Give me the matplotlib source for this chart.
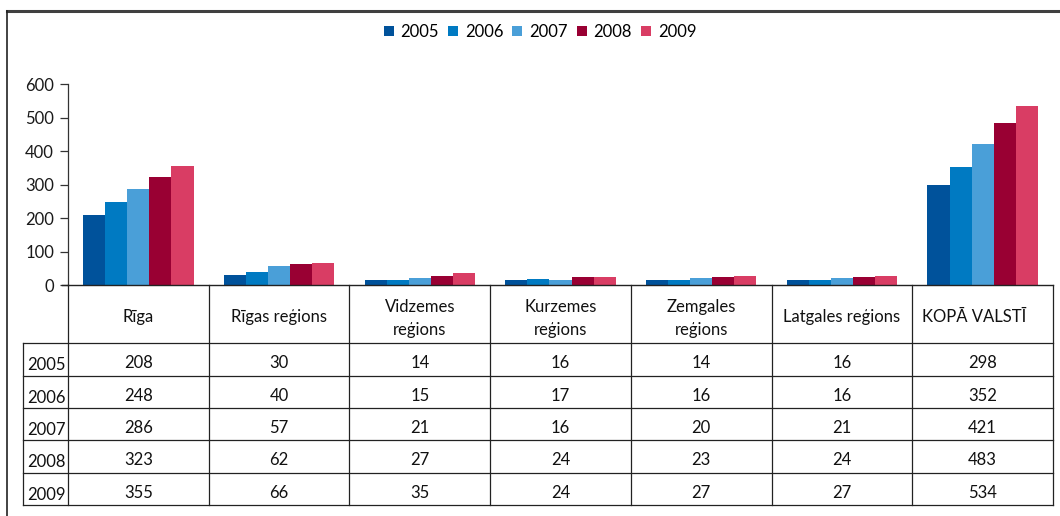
import matplotlib
matplotlib.use("Agg")
import matplotlib.pyplot as plt
from matplotlib.lines import Line2D

plt.rcParams['font.family'] = ['Lato', 'DejaVu Sans']

categories = ["Rīga", "Rīgas reģions", "Vidzemes\nreģions", "Kurzemes\nreģions",
              "Zemgales\nreģions", "Latgales reģions", "KOPĀ VALSTĪ"]
years = ["2005", "2006", "2007", "2008", "2009"]
v2005 = [208, 30, 14, 16, 14, 16, 298]
v2006 = [248, 40, 15, 17, 16, 16, 352]
v2007 = [286, 57, 21, 16, 20, 21, 421]
v2008 = [323, 62, 27, 24, 23, 24, 483]
v2009 = [355, 66, 35, 24, 27, 27, 534]
series = [v2005, v2006, v2007, v2008, v2009]
colors = ["#00529B", "#007AC2", "#4A9FD8", "#990033", "#D93D64"]
yticks = [0, 100, 200, 300, 400, 500, 600]

W, H = 1060, 516
fig = plt.figure(figsize=(W / 100, H / 100), dpi=100)
FS = 12

# main plot area in pixels
L, R, T, B = 68, 1053, 84.3, 285
ax = fig.add_axes([L / W, 1 - B / H, (R - L) / W, (B - T) / H])
n = len(categories)
bw = 0.157
x = list(range(n))
handles = []
for i, (vals, c) in enumerate(zip(series, colors)):
    off = (i - 2) * bw
    bars = ax.bar([xi + off for xi in x], vals, width=bw, color=c, label=years[i], linewidth=0)
    handles.append(bars)
ax.set_xlim(-0.5, n - 0.5)
ax.set_ylim(0, 600)
ax.set_yticks(yticks)
ax.set_yticklabels([str(t) for t in yticks], fontsize=FS, color="#1a1a1a")
ax.set_xticks([])
ax.tick_params(axis='y', direction='out', length=6, width=0.9, color="#333333", pad=4)
for s in ['top', 'right']:
    ax.spines[s].set_visible(False)
ax.spines['left'].set_color("#333333")
ax.spines['bottom'].set_color("#222222")
ax.spines['left'].set_linewidth(0.9)
ax.spines['bottom'].set_linewidth(1.0)
ax.add_line(Line2D([-0.5 - 6 / 140.6, -0.5], [0, 0], color="#222222", lw=1.0,
                   transform=ax.transData, clip_on=False))

# table below
colw = (R - L) / n
lab_left = 23
TB = 505
tax = fig.add_axes([lab_left / W, 1 - TB / H, (R - lab_left) / W, (TB - B) / H])
x0 = -0.5 - (L - lab_left) / colw
tax.set_xlim(x0, n - 0.5)
tax.set_ylim(TB - B, 0)
tax.axis('off')
head_h = 58.3
row_h = (TB - B - head_h) / len(years)
lc = "#222222"
lw = 0.9
for k in range(n + 1):
    tax.plot([k - 0.5, k - 0.5], [0, TB - B], color=lc, lw=lw, clip_on=False)
tax.plot([x0, x0], [head_h, TB - B], color=lc, lw=lw, clip_on=False)
for r in range(len(years) + 1):
    yy = head_h + r * row_h
    tax.plot([x0, n - 0.5], [yy, yy], color=lc, lw=lw, clip_on=False)

for k, cat in enumerate(categories):
    if k == n - 1:
        tax.text(k - 0.5 + 10 / colw, head_h / 2 + 3, cat, ha='left', va='center',
                 fontsize=FS, color="#111111")
    else:
        tax.text(k, head_h / 2 + (3 if "\n" not in cat else 4), cat, ha='center', va='center',
                 fontsize=FS, color="#111111", linespacing=1.55)
for r, (yr, vals) in enumerate(zip(years, series)):
    yc = head_h + (r + 0.5) * row_h
    tax.text(x0 + 4 / colw, yc + 6, yr, ha='left', va='center', fontsize=FS, color="#111111")
    for k, v in enumerate(vals):
        tax.text(k, yc + 4, str(v), ha='center', va='center', fontsize=FS, color="#111111")

# legend
fig.legend(handles=handles, labels=years, loc='center', bbox_to_anchor=(540 / W, 1 - 31.7 / H),
           ncol=5, frameon=False, fontsize=FS, handlelength=0.6, handleheight=0.6,
           handletextpad=0.4, columnspacing=0.55, borderaxespad=0)

# outer frame lines
fig.add_artist(Line2D([7 / W, 1], [1 - 10.5 / H, 1 - 10.5 / H], color="#404040", lw=2.2,
                      transform=fig.transFigure))
fig.add_artist(Line2D([7 / W, 7 / W], [0, 1 - 10.5 / H], color="#222222", lw=1.2,
                      transform=fig.transFigure))

fig.savefig("out.png", dpi=100)
